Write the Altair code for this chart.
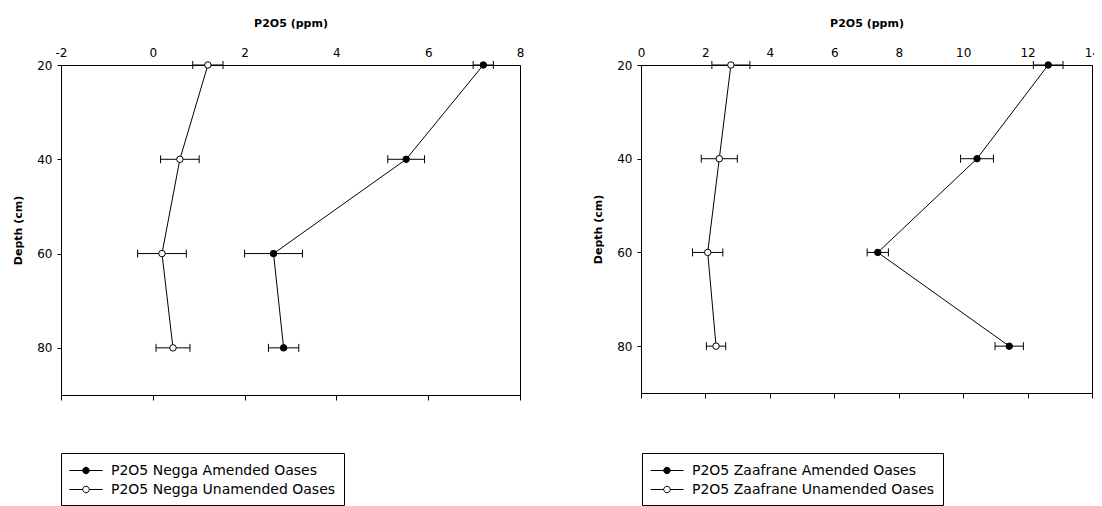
import altair as alt
import pandas as pd

depths = [20, 40, 60, 80]

negga_series = ["P2O5 Negga Amended Oases", "P2O5 Negga Unamended Oases"]
negga_amended = [7.2, 5.52, 2.63, 2.85]
negga_amended_err = [0.22, 0.40, 0.63, 0.33]
negga_unamended = [1.2, 0.59, 0.2, 0.44]
negga_unamended_err = [0.33, 0.42, 0.53, 0.37]

zaaf_series = ["P2O5 Zaafrane Amended Oases", "P2O5 Zaafrane Unamended Oases"]
zaaf_amended = [12.64, 10.43, 7.35, 11.43]
zaaf_amended_err = [0.46, 0.51, 0.33, 0.44]
zaaf_unamended = [2.79, 2.43, 2.07, 2.33]
zaaf_unamended_err = [0.59, 0.56, 0.47, 0.30]

negga_ticks = [-2, 0, 2, 4, 6, 8]
zaaf_ticks = [0, 2, 4, 6, 8, 10, 12, 14]
depth_ticks = [20, 40, 60, 80]

FONT = "DejaVu Sans"
LEGEND_PATH = ("M-1,0L0.47,0M1.19,0L2.67,0"
               "M1.19,0A0.36,0.36 0 1,1 0.47,0A0.36,0.36 0 1,1 1.19,0Z")


def make_df(names, vals_a, err_a, vals_u, err_u):
    rows = []
    for name, vals, errs in [(names[0], vals_a, err_a), (names[1], vals_u, err_u)]:
        for d, v, e in zip(depths, vals, errs):
            rows.append({"series": name, "depth": d, "value": v,
                         "lo": v - e, "hi": v + e})
    return pd.DataFrame(rows)


def panel(df, names, xdomain, xticks, width, height, lx, ly):
    xscale = alt.Scale(domain=xdomain, nice=False, zero=False)
    yscale = alt.Scale(domain=[20, 90], reverse=True, nice=False, zero=False)
    yaxis = alt.Axis(values=depth_ticks, title="Depth (cm)", tickSize=4,
                     labelPadding=5, titlePadding=13, grid=False,
                     titleFontWeight="bold", titleFontSize=11, labelFontSize=12)
    y = alt.Y("depth:Q", scale=yscale, axis=yaxis)

    top_axis = alt.Axis(orient="top", values=xticks, title="P2O5 (ppm)",
                        ticks=False, labelPadding=6, titlePadding=18,
                        labelFlush=False, grid=False, titleFontWeight="bold",
                        titleFontSize=11, labelFontSize=12,
                        labelExpr="replace(datum.label, '\u2212', '-')")
    bottom_axis = alt.Axis(orient="bottom", values=xticks, labels=False,
                           ticks=True, tickSize=5, title=None, grid=False)

    base = alt.Chart(df)
    line = base.mark_line(color="black", strokeWidth=1).encode(
        x=alt.X("value:Q", scale=xscale, axis=top_axis),
        y=y,
        detail="series:N",
        order="depth:Q",
    )
    err = base.mark_rule(color="black", strokeWidth=1).encode(
        x=alt.X("lo:Q", scale=xscale, axis=bottom_axis),
        x2="hi:Q",
        y=y,
    )
    cap_lo = base.mark_point(shape="M0,-1L0,1", size=64, color="black",
                             strokeWidth=1, opacity=1).encode(
        x=alt.X("lo:Q", scale=xscale, axis=None), y=y)
    cap_hi = base.mark_point(shape="M0,-1L0,1", size=64, color="black",
                             strokeWidth=1, opacity=1).encode(
        x=alt.X("hi:Q", scale=xscale, axis=None), y=y)
    pts = base.mark_point(filled=True, size=42, stroke="black", strokeWidth=1,
                          opacity=1).encode(
        x=alt.X("value:Q", scale=xscale, axis=None),
        y=y,
        fill=alt.Fill("series:N",
                      scale=alt.Scale(domain=names, range=["black", "white"]),
                      legend=alt.Legend(
                          title=None, orient="none", legendX=lx, legendY=ly,
                          symbolType=LEGEND_PATH, symbolSize=324,
                          symbolStrokeColor="black", symbolStrokeWidth=1,
                          symbolOpacity=1, labelOffset=23,
                          labelFont=FONT, labelFontSize=14, labelColor="black",
                          labelLimit=400, strokeColor="black", fillColor="white",
                          padding=8, rowPadding=2)),
    )
    return alt.layer(line, err, cap_lo, cap_hi, pts).resolve_axis(
        x="independent").properties(width=width, height=height)


negga_df = make_df(negga_series, negga_amended, negga_amended_err,
                   negga_unamended, negga_unamended_err)
zaaf_df = make_df(zaaf_series, zaaf_amended, zaaf_amended_err,
                  zaaf_unamended, zaaf_unamended_err)

left = panel(negga_df, negga_series, [-2, 8], negga_ticks, 459, 330, 0, 388)
right = panel(zaaf_df, zaaf_series, [0, 14], zaaf_ticks, 451, 328, 1, 388)

chart = alt.hconcat(left, right, spacing=67).resolve_scale(
    fill="independent"
).properties(
    padding={"left": 4, "top": 8, "right": -7, "bottom": 0}
).configure(
    font=FONT,
).configure_view(
    stroke="black", strokeWidth=1
).configure_axis(
    domainColor="black", tickColor="black", labelColor="black",
    titleColor="black", labelFont=FONT, titleFont=FONT,
)

chart.save("out.html", embed_options={"renderer": "svg", "actions": False})
